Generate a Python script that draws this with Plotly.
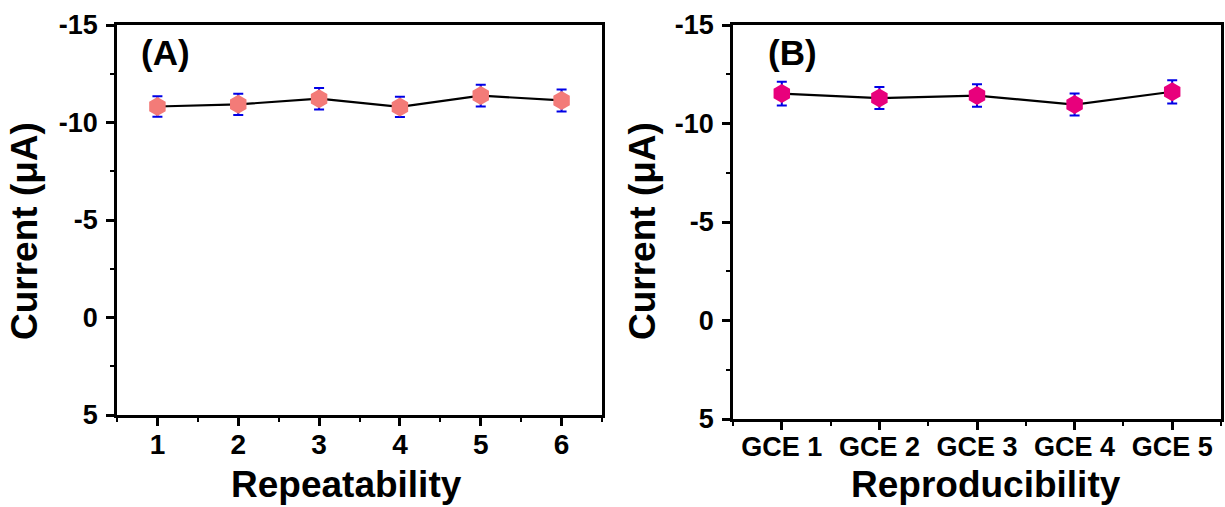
import plotly.graph_objects as go

# ---- data ----
rep_x = [1, 2, 3, 4, 5, 6]
rep_current = [-10.82, -10.93, -11.22, -10.80, -11.38, -11.13]
rep_err = [0.53, 0.55, 0.55, 0.52, 0.56, 0.56]

gce_labels = ["GCE 1", "GCE 2", "GCE 3", "GCE 4", "GCE 5"]
gce_current = [-11.52, -11.29, -11.42, -10.96, -11.61]
gce_err = [0.60, 0.56, 0.57, 0.56, 0.59]

y_tickvals = [-15, -10, -5, 0, 5]
y_ticktext = ["-15", "-10", "-5", "0", "5"]

W, H = 1225, 507
FONT = "Arial, Liberation Sans, sans-serif"

def px_x(p):
    return p / W

def px_y(p):
    return (H - p) / H

fig = go.Figure()

fig.add_trace(go.Scatter(
    x=rep_x, y=rep_current, mode="lines+markers", xaxis="x", yaxis="y",
    line=dict(color="black", width=2.2),
    marker=dict(symbol="hexagon", size=19, color="#F37B78", line=dict(width=0)),
    error_y=dict(type="data", array=rep_err, visible=True, color="#0000E6",
                 thickness=2, width=5),
    showlegend=False,
))

gce_pos = list(range(len(gce_labels)))
fig.add_trace(go.Scatter(
    x=gce_pos, y=gce_current, mode="lines+markers", xaxis="x2", yaxis="y2",
    line=dict(color="black", width=2.2),
    marker=dict(symbol="hexagon", size=19, color="#E8007C", line=dict(width=0)),
    error_y=dict(type="data", array=gce_err, visible=True, color="#0000E6",
                 thickness=2, width=5),
    showlegend=False,
))

axis_common = dict(
    showline=True, linecolor="black", linewidth=2.5, mirror=True,
    ticks="outside", ticklen=8, tickwidth=2.5, tickcolor="black",
    showgrid=False, zeroline=False, automargin=False,
)

yaxis_common = dict(
    axis_common,
    range=[5, -15], tickmode="array", tickvals=y_tickvals, ticktext=y_ticktext,
    tickfont=dict(family=FONT, size=27, color="black", weight="bold"),
    ticklabelstandoff=3,
    minor=dict(dtick=2.5, tick0=0, ticklen=4, tickwidth=2, tickcolor="black", ticks="outside"),
)

fig.update_layout(
    template="none",
    width=W, height=H,
    margin=dict(l=0, r=0, t=0, b=0, pad=0),
    paper_bgcolor="white", plot_bgcolor="white",
    xaxis=dict(
        axis_common,
        domain=[px_x(117), px_x(602)], anchor="y",
        range=[0.5, 6.5], tickmode="array", tickvals=rep_x,
        ticktext=[str(v) for v in rep_x],
        tickfont=dict(family=FONT, size=28, color="black", weight="bold"),
        ticklabelstandoff=-5,
        minor=dict(dtick=1, tick0=0.5, ticklen=4, tickwidth=2, tickcolor="black", ticks="outside"),
    ),
    yaxis=dict(yaxis_common, domain=[px_y(415), px_y(25)], anchor="x"),
    xaxis2=dict(
        axis_common,
        domain=[px_x(733), px_x(1221)], anchor="y2",
        range=[-0.5, len(gce_labels) - 0.5], tickmode="array", tickvals=gce_pos,
        ticktext=gce_labels,
        tickfont=dict(family=FONT, size=27, color="black", weight="bold"),
        ticklabelstandoff=-6,
        minor=dict(dtick=1, tick0=0.5, ticklen=4, tickwidth=2, tickcolor="black", ticks="outside"),
    ),
    yaxis2=dict(yaxis_common, domain=[px_y(419), px_y(25)], anchor="x2"),
)

ann_font = dict(family=FONT, color="black", weight="bold")
annotations = [
    dict(text="(A)", x=px_x(139), y=px_y(53), xanchor="left", yanchor="middle",
         font=dict(ann_font, size=35)),
    dict(text="(B)", x=px_x(766), y=px_y(53), xanchor="left", yanchor="middle",
         font=dict(ann_font, size=35)),
    dict(text="Repeatability", x=px_x(346), y=px_y(484), xanchor="center", yanchor="middle",
         font=dict(ann_font, size=37)),
    dict(text="Reproducibility", x=px_x(986), y=px_y(484), xanchor="center", yanchor="middle",
         font=dict(ann_font, size=37)),
    dict(text="Current (μA)", x=px_x(24), y=px_y(231), xanchor="center", yanchor="middle",
         textangle=-90, font=dict(ann_font, size=37)),
    dict(text="Current (μA)", x=px_x(642), y=px_y(231), xanchor="center", yanchor="middle",
         textangle=-90, font=dict(ann_font, size=37)),
]
for a in annotations:
    a.update(xref="paper", yref="paper", showarrow=False)
fig.update_layout(annotations=annotations)

fig.write_html("out.html", config={"displayModeBar": False},
               post_script="document.body.style.margin='0';")
